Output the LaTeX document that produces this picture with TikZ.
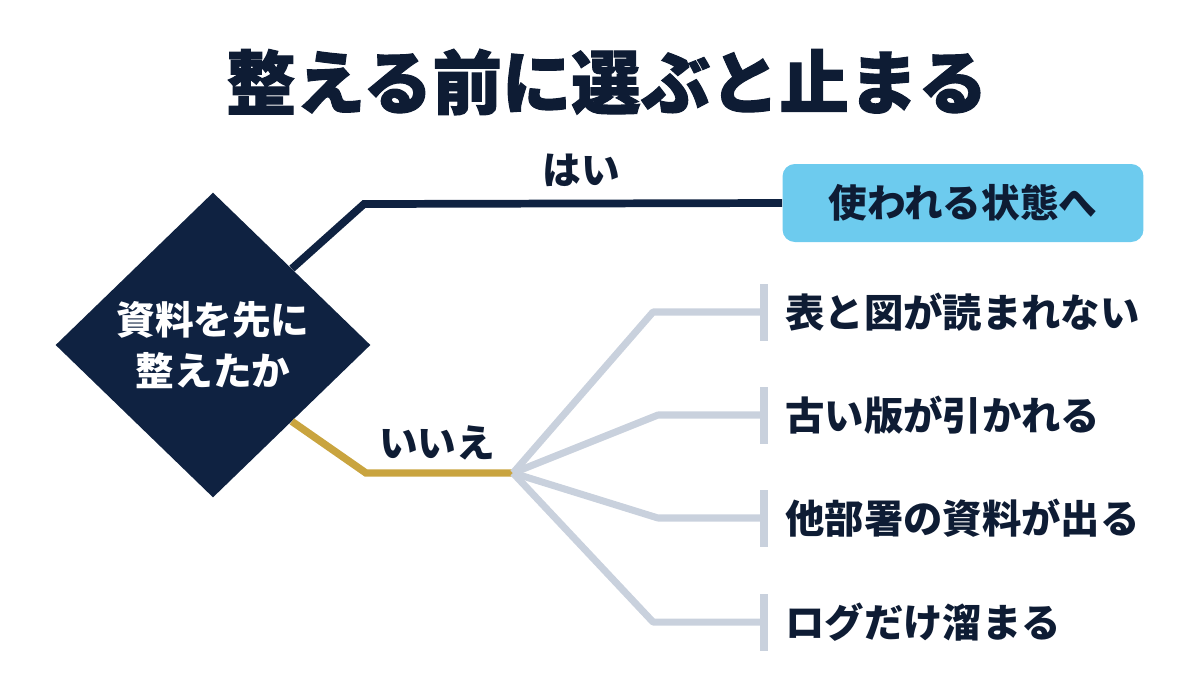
\documentclass[tikz,border=0pt]{standalone}
\usepackage{fontspec}
\setmainfont{Noto Sans CJK JP}
\newfontfamily\titlefont{Noto Sans CJK JP}[BoldFeatures={FakeBold=1.6}]
\usepackage{tikz}
\usetikzlibrary{shapes.geometric, positioning}
\usepackage{xcolor}
\definecolor{navyDeep}{HTML}{0F2241}
\definecolor{inkNavy}{HTML}{0E1C34}
\definecolor{goldNo}{HTML}{C9A43F}
\definecolor{paleGray}{HTML}{C9D1DD}
\definecolor{skyBlue}{HTML}{6DCBEE}

\begin{document}
\begin{tikzpicture}[x=0.02cm, y=-0.02cm,
  question/.style={diamond, fill=navyDeep, text=white, align=center,
                   minimum width=6.3cm, minimum height=6.1cm, inner sep=0pt,
                   font=\fontsize{22}{29}\selectfont\bfseries},
  outcome/.style={rectangle, rounded corners=7pt, fill=skyBlue,
                  minimum width=7.22cm, minimum height=1.56cm,
                  font=\fontsize{22}{26}\selectfont\bfseries, text=inkNavy},
  result/.style={anchor=west, inner sep=0pt, text=inkNavy,
                 font=\fontsize{22.4}{26}\selectfont\bfseries},
  branchlabel/.style={inner sep=0pt, text=inkNavy,
                      font=\fontsize{22}{26}\selectfont\bfseries},
  tickbar/.style={rectangle, fill=paleGray, minimum width=0.16cm,
                  minimum height=1.14cm, inner sep=0pt},
  yesline/.style={line width=4.4pt, draw=navyDeep},
  noline/.style={line width=4.2pt, draw=goldNo},
  fanline/.style={line width=4pt, draw=paleGray, line join=round}
]
  \useasboundingbox (0,0) rectangle (1200,691);

  \node[text=inkNavy, font=\titlefont\fontsize{39.5}{48}\selectfont\bfseries]
    (title) at (607,82) {整える前に選ぶと止まる};

  \node[question] (q) at (213,345) {資料を先に\\整えたか};

  % yes branch
  \node[outcome] (yes) at (963,203) {使われる状態へ};
  \coordinate (ycorner) at (364,204);
  \draw[yesline] (q.north east) -- (ycorner) -- (yes.west);
  \node[branchlabel] (yeslbl) at (581,170) {はい};

  % no branch
  \coordinate (ncorner) at (366,473);
  \coordinate (fan) at (513,473);
  \draw[noline] (q.south east) -- (ncorner) -- (fan);
  \node[branchlabel] (nolbl) at (437,443) {いいえ};

  \foreach \i/\x/\y/\txt in {1/653/312/表と図が読まれない,
                              2/658/415/古い版が引かれる,
                              3/658/518/他部署の資料が出る,
                              4/653/622/ログだけ溜まる} {
    \node[tickbar] (bar\i) at (764,\y) {};
    \coordinate (bend\i) at (\x,\y);
    \draw[fanline] (fan) -- (bend\i) -- (bar\i.center);
    \node[result] (res\i) at (785,\y) {\txt};
  }
\end{tikzpicture}
\end{document}
